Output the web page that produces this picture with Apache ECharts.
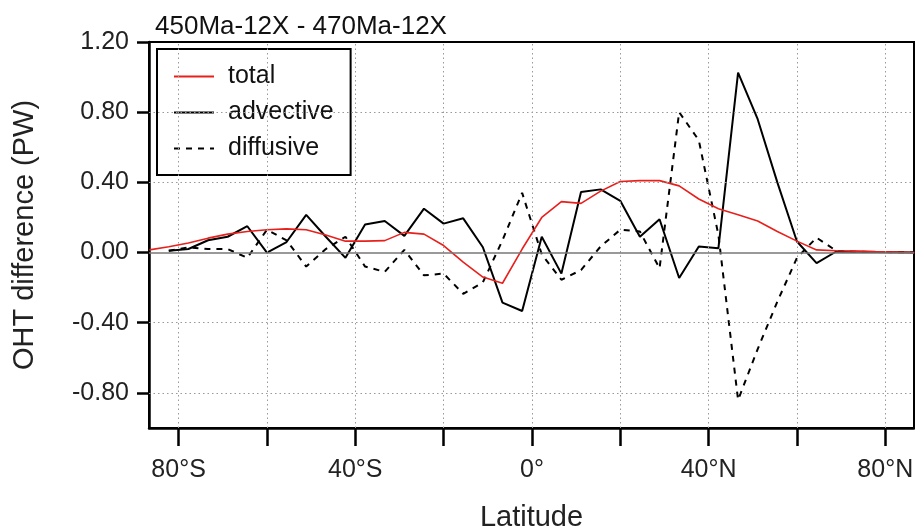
<!DOCTYPE html>
<html>
<head>
<meta charset="utf-8">
<script src="https://cdn.jsdelivr.net/npm/echarts@6/dist/echarts.min.js"></script>
<style>
html,body{margin:0;padding:0;background:#fff;}
#chart{width:915px;height:530px;}
</style>
</head>
<body>
<div id="chart"></div>
<script>
// Latitudes (Gaussian-like grid, south to north)
const latitudes = [-86.6,-82.22,-77.78,-73.33,-68.89,-64.44,-60.0,-55.56,-51.11,-46.67,
  -42.22,-37.78,-33.33,-28.89,-24.44,-20.0,-15.56,-11.11,-6.67,-2.22,
  2.22,6.67,11.11,15.56,20.0,24.44,28.89,33.33,37.78,42.22,
  46.67,51.11,55.56,60.0,64.44,68.89,73.33,77.78,82.22,86.6];

const total = [0.015,0.033,0.054,0.082,0.105,0.12,0.13,0.135,0.13,0.10,
  0.065,0.065,0.068,0.115,0.105,0.04,-0.055,-0.14,-0.175,0.02,
  0.20,0.29,0.28,0.35,0.405,0.41,0.41,0.38,0.305,0.25,
  0.215,0.18,0.12,0.065,0.015,0.01,0.008,0.005,0.003,0.0];

const advective = [null,0.01,0.02,0.07,0.09,0.15,0.0,0.06,0.215,0.09,
  -0.03,0.16,0.18,0.095,0.25,0.165,0.195,0.03,-0.285,-0.333,
  0.09,-0.12,0.345,0.36,0.295,0.09,0.19,-0.145,0.035,0.025,
  1.025,0.76,0.40,0.063,-0.06,0.006,0.005,0.003,0.002,0.0];

const diffusive = [null,0.01,0.03,0.02,0.02,-0.03,0.13,0.07,-0.08,0.02,
  0.09,-0.08,-0.11,0.015,-0.13,-0.12,-0.235,-0.17,0.07,0.34,
  -0.01,-0.155,-0.10,0.035,0.13,0.12,-0.09,0.80,0.64,0.10,
  -0.84,-0.55,-0.28,-0.03,0.085,0.01,0.005,0.003,0.002,0.0];

const seriesNames = ['total','advective','diffusive'];
const xTickValues = [-80,-60,-40,-20,0,20,40,60,80];
const xLabelValues = [-80,-40,0,40,80];
const yTickValues = [-0.8,-0.4,0,0.4,0.8,1.2];
const yGridValues = [-0.8,-0.4,0.4,0.8];
const titleText = '450Ma-12X - 470Ma-12X';

const FONT = 'Liberation Sans';
const pair = (xs, ys) => xs.map((x, i) => [x, ys[i]]);
const latLabel = v => v === 0 ? '0°' : (Math.abs(v) + '°' + (v < 0 ? 'S' : 'N'));

const gridLineStyle = {type:[1.5,3], color:'#999', width:1};
const markData = xTickValues.map(v => ({xAxis:v, lineStyle:gridLineStyle}))
  .concat(yGridValues.map(v => ({yAxis:v, lineStyle:gridLineStyle})))
  .concat([{yAxis:0, lineStyle:{type:'solid', color:'#777', width:1.5}}]);

const chart = echarts.init(document.getElementById('chart'), null, {renderer:'canvas'});
chart.setOption({
  animation:false,
  backgroundColor:'#fff',
  textStyle:{fontFamily:FONT},
  title:{
    text:titleText, left:150, top:9,
    textStyle:{fontFamily:FONT, fontSize:26, fontWeight:'normal', color:'#111'}
  },
  legend:{
    data:seriesNames, orient:'vertical', left:157, top:49,
    padding:[15,17,14,16], itemWidth:40, itemHeight:25, itemGap:11,
    borderColor:'#000', borderWidth:2, backgroundColor:'#fff',
    itemStyle:{color:'transparent', borderColor:'transparent', borderWidth:0, opacity:0},
    textStyle:{fontFamily:FONT, fontSize:25, color:'#111', padding:[0,0,0,9]}
  },
  grid:{left:149, right:1, top:42, bottom:102, show:true, borderColor:'#000', borderWidth:2,
    containLabel:false, outerBoundsMode:'none'},
  xAxis:{
    type:'value', min:-86.7, max:86.5,
    name:'Latitude', nameLocation:'middle', nameGap:75,
    nameTextStyle:{fontFamily:FONT, fontSize:29, color:'#222'},
    axisLine:{show:true, onZero:false, lineStyle:{color:'#000', width:2.5}},
    axisTick:{show:true, inside:false, length:18, customValues:xTickValues, lineStyle:{color:'#000', width:2.5}},
    axisLabel:{customValues:xLabelValues, formatter:latLabel, fontFamily:FONT, fontSize:25, color:'#222', margin:30},
    splitLine:{show:false}
  },
  yAxis:{
    type:'value', min:-1.0, max:1.2,
    name:'OHT difference (PW)', nameLocation:'middle', nameGap:110,
    nameTextStyle:{fontFamily:FONT, fontSize:29, color:'#222'},
    axisLine:{show:true, onZero:false, lineStyle:{color:'#000', width:2.5}},
    axisTick:{show:true, inside:false, length:12, customValues:yTickValues, lineStyle:{color:'#000', width:2.5}},
    axisLabel:{customValues:yTickValues, formatter:v => v.toFixed(2), fontFamily:FONT, fontSize:25, color:'#222', margin:20, padding:[3,0,0,0]},
    splitLine:{show:false}
  },
  series:[
    {
      name:'gridlines', type:'line', data:[], silent:true, z:1,
      markLine:{silent:true, symbol:['none','none'], label:{show:false}, data:markData}
    },
    {
      name:'total', type:'line', data:pair(latitudes,total), symbol:'none', z:4,
      color:'#e8201c', lineStyle:{color:'#e8201c', width:1.6}
    },
    {
      name:'advective', type:'line', data:pair(latitudes,advective), symbol:'none', z:3,
      color:'#000', lineStyle:{color:'#000', width:2}
    },
    {
      name:'diffusive', type:'line', data:pair(latitudes,diffusive), symbol:'none', z:2,
      color:'#000', lineStyle:{color:'#000', width:2, type:[6,6]}
    }
  ]
});
</script>
</body>
</html>
